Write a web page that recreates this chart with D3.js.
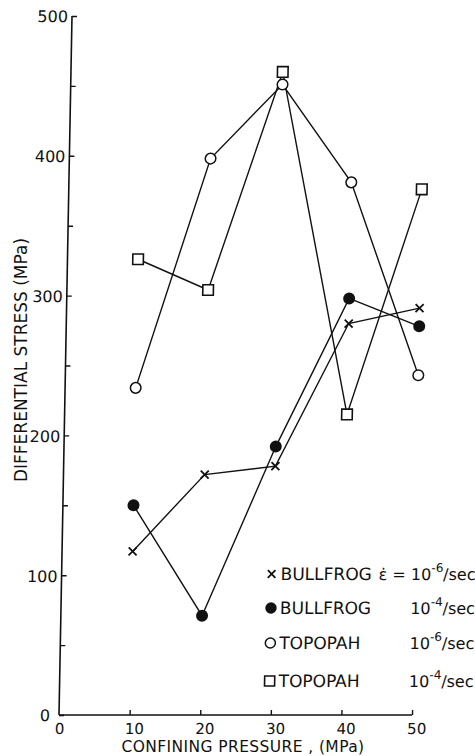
<!DOCTYPE html>
<html>
<head>
<meta charset="utf-8">
<script src="https://cdn.jsdelivr.net/npm/d3@7"></script>
<style>
  html, body { margin: 0; padding: 0; background: #fff; }
  svg { display: block; }
  text { font-family: "DejaVu Sans", sans-serif; fill: #111; }
</style>
</head>
<body>
<svg id="chart" width="475" height="756"></svg>
<script>
// ---- data ----
const pressures = [10, 20, 30, 40, 50];
const bullfrog6 = [117, 172, 178, 280, 291];   // x  BULLFROG 10^-6/sec
const bullfrog4 = [150, 71, 192, 298, 278];    // filled circle BULLFROG 10^-4/sec
const topopah6  = [234, 398, 451, 381, 243];   // open circle TOPOPAH 10^-6/sec
const topopah4  = [326, 304, 460, 215, 376];   // square TOPOPAH 10^-4/sec
const xTickValues = [0, 10, 20, 30, 40, 50];
const yTickValues = [0, 100, 200, 300, 400, 500];
const yMinorTicks = [50, 150, 250, 350, 450];
const seriesNames = ["BULLFROG", "BULLFROG", "TOPOPAH", "TOPOPAH"];
const rateExp = ["-6", "-4", "-6", "-4"];
const xLabel = "CONFINING PRESSURE , (MPa)";
const yLabel = "DIFFERENTIAL STRESS (MPa)";

const series = [
  { name: seriesNames[0], exp: rateExp[0], values: bullfrog6, sym: "cross", first: true },
  { name: seriesNames[1], exp: rateExp[1], values: bullfrog4, sym: "disc" },
  { name: seriesNames[2], exp: rateExp[2], values: topopah6, sym: "circle" },
  { name: seriesNames[3], exp: rateExp[3], values: topopah4, sym: "square" }
];

const svg = d3.select("#chart");
const ink = "#111";

// slight scan skew of the original figure
const k = 13 / 699, yBase = 715;
const g = svg.append("g")
  .attr("transform", `translate(${k * yBase},0) skewX(${-Math.atan(k) * 180 / Math.PI})`);

const x = d3.scaleLinear().domain([0, 50]).range([59, 412]);
const y = d3.scaleLinear().domain([0, 500]).range([715, 16]);

// axes
const yAxis = d3.axisRight(y).tickValues(yTickValues.concat(yMinorTicks))
  .tickSize(5).tickFormat("");
const yg = g.append("g").attr("transform", `translate(${x(0)},0)`).call(yAxis);
yg.select(".domain").attr("stroke", ink).attr("stroke-width", 1.6).attr("d", `M0,${y(0)}V${y(500)}`);
yg.selectAll(".tick line").attr("stroke", ink).attr("stroke-width", 1.4);

g.selectAll(".ylab").data(yTickValues).join("text")
  .attr("class", "ylab")
  .attr("x", d => x(0) - (d === 0 ? 9 : 4))
  .attr("y", d => y(d) + 1)
  .attr("text-anchor", "end")
  .attr("dominant-baseline", "central")
  .style("font-size", "16px")
  .text(d => d);

const xAxis = d3.axisTop(x).tickValues(xTickValues.slice(1)).tickSize(5).tickFormat("");
const xg = g.append("g").attr("transform", `translate(0,${y(0)})`).call(xAxis);
xg.select(".domain").attr("stroke", ink).attr("stroke-width", 1.6).attr("d", `M${x(0)},0H${x(50)}`);
xg.selectAll(".tick line").attr("stroke", ink).attr("stroke-width", 1.4);

g.selectAll(".xlab").data(xTickValues).join("text")
  .attr("class", "xlab")
  .attr("x", d => x(d) + (d === 0 ? 1 : 5))
  .attr("y", 734)
  .attr("text-anchor", "middle")
  .style("font-size", "15px")
  .text(d => d);

svg.append("text")
  .attr("x", 243).attr("y", 752)
  .attr("text-anchor", "middle")
  .style("font-size", "15.5px")
  .style("letter-spacing", "0.4px")
  .text(xLabel);

svg.append("text")
  .attr("transform", "translate(27,360) rotate(-90)")
  .attr("text-anchor", "middle")
  .style("font-size", "17px")
  .text(yLabel);

// lines
const line = d3.line().x(d => x(d[0])).y(d => y(d[1]));
series.forEach(s => {
  const pts = pressures.map((p, i) => [p, s.values[i]]);
  g.append("path").datum(pts)
    .attr("d", line)
    .attr("fill", "none")
    .attr("stroke", ink)
    .attr("stroke-width", 1.4);
});

function drawSymbol(sel, sym, cx, cy, scale = 1) {
  if (sym === "cross") {
    const h = 4 * scale;
    sel.append("path")
      .attr("d", `M${cx - h},${cy - h}L${cx + h},${cy + h}M${cx - h},${cy + h}L${cx + h},${cy - h}`)
      .attr("stroke", ink).attr("stroke-width", 1.8).attr("fill", "none");
  } else if (sym === "disc") {
    sel.append("circle").attr("cx", cx).attr("cy", cy).attr("r", 6 * scale).attr("fill", ink);
  } else if (sym === "circle") {
    sel.append("circle").attr("cx", cx).attr("cy", cy).attr("r", 5.3 * scale)
      .attr("fill", "#fff").attr("stroke", ink).attr("stroke-width", 1.5);
  } else if (sym === "square") {
    const h = 5.3 * scale;
    sel.append("rect").attr("x", cx - h).attr("y", cy - h).attr("width", 2 * h).attr("height", 2 * h)
      .attr("fill", "#fff").attr("stroke", ink).attr("stroke-width", 1.6);
  }
}

// markers
series.forEach(s => {
  pressures.forEach((p, i) => drawSymbol(g, s.sym, x(p), y(s.values[i])));
});

// legend
const legY = [574, 608, 643, 681];
series.forEach((s, i) => {
  const cy = legY[i];
  drawSymbol(g, s.sym, 269, cy, 0.95);
  g.append("text")
    .attr("x", 278).attr("y", cy + 6.5)
    .style("font-size", "17px")
    .text(s.name);
  const t = g.append("text")
    .attr("x", 473).attr("y", cy + 6.5)
    .attr("text-anchor", "end")
    .style("font-size", "16px");
  if (s.first) t.append("tspan").text("\u03B5\u0307 = ");
  t.append("tspan").text("10");
  t.append("tspan").attr("dy", -8).style("font-size", "12px").text(s.exp);
  t.append("tspan").attr("dy", 8).text("/sec");
});
</script>
</body>
</html>
